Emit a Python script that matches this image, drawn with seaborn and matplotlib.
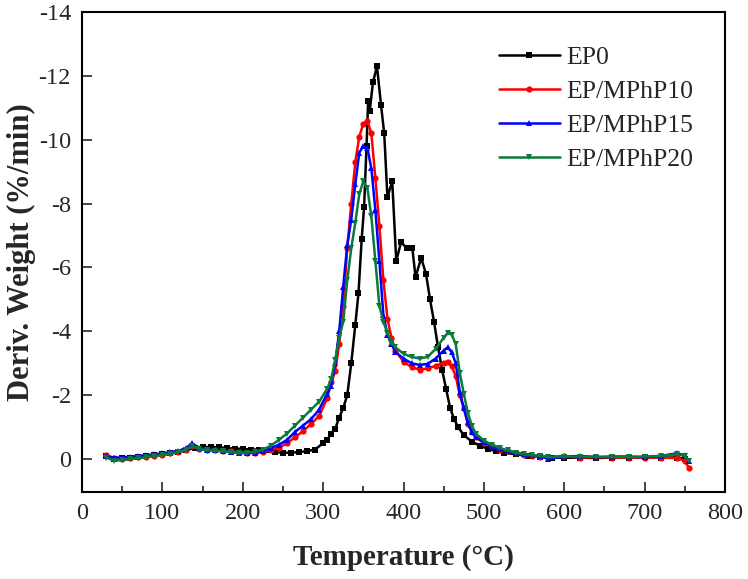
import matplotlib
matplotlib.use("Agg")
import matplotlib.pyplot as plt
from matplotlib.ticker import MultipleLocator
import pandas as pd
import seaborn as sns

# Temperature grid (°C) for the EP0 curve
temp_ep0 = [30, 40, 50, 60, 70, 80, 90, 100, 110, 120, 130, 140, 150, 160, 170,
            180, 190, 200, 210, 220, 230, 240, 250, 260, 270, 280, 290, 300, 305,
            310, 315, 320, 325, 330, 335, 340, 344, 348, 351, 354, 356, 358, 362,
            367, 372, 376, 380, 386, 391, 397, 404, 411, 415, 422, 428, 433, 438,
            443, 448, 453, 458, 463, 468, 475, 485, 495, 505, 515, 525, 540, 555,
            570, 585, 600, 620, 640, 660, 680, 700, 720, 740, 750]
ep0 = [-0.1, 0.0, -0.02, -0.05, -0.08, -0.1, -0.12, -0.15, -0.18, -0.22, -0.28,
       -0.35, -0.38, -0.38, -0.37, -0.35, -0.33, -0.32, -0.3, -0.3, -0.28, -0.22,
       -0.2, -0.2, -0.22, -0.25, -0.3, -0.5, -0.6, -0.8, -0.95, -1.3, -1.6, -2.0,
       -3.0, -4.2, -5.2, -6.9, -7.9, -9.8, -11.2, -10.9, -11.8, -12.3, -11.1,
       -10.2, -8.2, -8.7, -6.2, -6.8, -6.6, -6.6, -5.7, -6.3, -5.8, -5.0, -4.3,
       -3.5, -2.8, -2.2, -1.6, -1.25, -1.0, -0.75, -0.55, -0.42, -0.32, -0.25,
       -0.2, -0.15, -0.1, -0.08, -0.05, -0.04, -0.05, -0.03, -0.05, -0.04, -0.06,
       -0.05, -0.05, 0.0]

# Temperature grid (°C) shared by the flame-retarded samples
temp_fr = [30, 40, 50, 60, 70, 80, 90, 100, 110, 120, 130, 137, 145, 155, 165,
           175, 185, 195, 205, 215, 225, 235, 245, 255, 265, 275, 285, 295, 305,
           310, 315, 320, 325, 330, 335, 340, 345, 350, 355, 360, 365, 370, 375,
           380, 385, 390, 400, 410, 420, 430, 440, 450, 455, 460, 465, 470, 475,
           480, 485, 490, 500, 510, 520, 530, 540, 550, 560, 570, 580, 600, 620,
           640, 660, 680, 700, 720, 740, 750, 755]
mphp10 = [-0.12, -0.02, 0.0, -0.03, -0.06, -0.08, -0.1, -0.14, -0.18, -0.22, -0.3,
          -0.42, -0.32, -0.3, -0.28, -0.26, -0.24, -0.22, -0.2, -0.2, -0.22, -0.3,
          -0.35, -0.5, -0.68, -0.88, -1.1, -1.35, -1.9, -2.4, -2.75, -3.6, -4.8,
          -6.6, -8.0, -9.3, -10.1, -10.5, -10.6, -10.2, -8.8, -7.3, -5.6, -4.4,
          -3.8, -3.4, -3.05, -2.88, -2.8, -2.84, -2.92, -3.02, -3.05, -2.9, -2.6,
          -2.0, -1.6, -1.1, -0.85, -0.68, -0.5, -0.4, -0.3, -0.24, -0.18, -0.14,
          -0.1, -0.08, -0.06, -0.1, -0.05, -0.06, -0.05, -0.04, -0.05, -0.05,
          -0.03, 0.05, 0.28]
mphp15 = [-0.1, -0.05, -0.05, -0.08, -0.1, -0.12, -0.15, -0.18, -0.22, -0.26,
          -0.35, -0.5, -0.35, -0.3, -0.28, -0.25, -0.22, -0.2, -0.18, -0.2, -0.25,
          -0.35, -0.45, -0.6, -0.85, -1.05, -1.25, -1.55, -2.05, -2.3, -3.0, -4.0,
          -5.4, -6.7, -7.5, -8.6, -9.6, -9.8, -9.75, -9.1, -7.8, -6.2, -4.5, -3.9,
          -3.6, -3.35, -3.15, -3.0, -2.95, -2.98, -3.15, -3.4, -3.5, -3.35, -3.0,
          -2.1, -1.6, -1.15, -0.85, -0.7, -0.52, -0.42, -0.32, -0.26, -0.2, -0.16,
          -0.12, -0.1, 0.0, -0.08, -0.1, -0.06, -0.08, -0.08, -0.06, -0.1, -0.18,
          -0.12, 0.05]
mphp20 = [-0.05, 0.05, 0.03, 0.0, -0.03, -0.06, -0.1, -0.13, -0.17, -0.22, -0.3,
          -0.42, -0.32, -0.28, -0.26, -0.24, -0.22, -0.2, -0.2, -0.22, -0.3, -0.42,
          -0.6, -0.8, -1.05, -1.3, -1.55, -1.8, -2.2, -2.5, -3.1, -3.8, -4.3, -5.6,
          -6.6, -7.4, -8.3, -8.7, -8.5, -7.6, -6.2, -4.8, -4.3, -3.95, -3.65, -3.5,
          -3.3, -3.2, -3.15, -3.2, -3.45, -3.8, -3.95, -3.9, -3.6, -2.7, -2.05,
          -1.45, -1.05, -0.8, -0.58, -0.45, -0.35, -0.27, -0.2, -0.15, -0.12, -0.1,
          -0.06, -0.08, -0.08, -0.07, -0.07, -0.06, -0.08, -0.1, -0.15, -0.1, 0.05]

series_names = ["EP0", "EP/MPhP10", "EP/MPhP15", "EP/MPhP20"]
series_colors = ["black", "#ff0000", "#0000ff", "#0a7a3a"]
series_markers = ["s", "o", "^", "v"]

sns.set_style("ticks")
plt.rcParams["font.family"] = ["Liberation Serif", "DejaVu Serif"]
plt.rcParams["axes.unicode_minus"] = False

fig = plt.figure(figsize=(7.48, 5.79), dpi=100)
ax = fig.add_axes([82 / 748, 1 - 492 / 579, 643 / 748, 480 / 579])

curves = [(temp_ep0, ep0), (temp_fr, mphp10), (temp_fr, mphp15), (temp_fr, mphp20)]
for (t, v), name, col, mk in zip(curves, series_names, series_colors, series_markers):
    df = pd.DataFrame({"temp": t, "dtg": v})
    sns.lineplot(data=df, x="temp", y="dtg", ax=ax, color=col, marker=mk,
                 markersize=4.5, markeredgewidth=0, linewidth=1.8, label=name,
                 sort=False)

ax.set_xlim(0, 800)
ax.set_ylim(1.03, -14)
ax.xaxis.set_major_locator(MultipleLocator(100))
ax.xaxis.set_minor_locator(MultipleLocator(50))
ax.yaxis.set_major_locator(MultipleLocator(2))
ax.tick_params(axis="both", which="major", direction="in", length=7, width=1.2,
               labelsize=17.5, pad=8)
ax.tick_params(axis="x", which="minor", direction="in", length=4, width=1.2)
for sp in ax.spines.values():
    sp.set_linewidth(1.5)
    sp.set_color("black")

ax.set_xlabel("Temperature (°C)", fontsize=21, fontweight="bold", labelpad=14)
ax.set_ylabel("Deriv. Weight (%/min)", fontsize=22, fontweight="bold", labelpad=2)

ax.legend(loc="upper left", bbox_to_anchor=(0.628, 0.955), frameon=False,
          fontsize=18.5, handlelength=2.4, labelspacing=0.42, borderpad=0,
          handletextpad=0.25)

fig.savefig("out.png", dpi=100)
